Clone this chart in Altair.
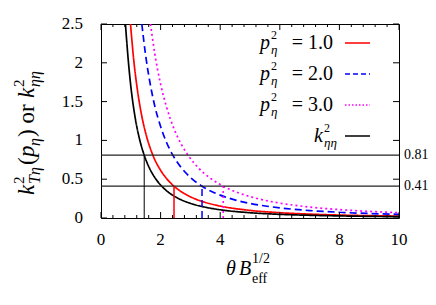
import altair as alt
import pandas as pd

# ---------------- data ----------------
x_black = [0.82, 0.9, 1.0, 1.1, 1.2, 1.3, 1.45, 1.6, 1.8, 2.0, 2.3, 2.6, 3.0, 3.5, 4.0, 5.0, 6.0, 7.0, 8.0, 9.0, 10.0]
y_black = [2.50, 2.10, 1.70, 1.405, 1.18, 1.006, 0.81, 0.664, 0.525, 0.425, 0.321, 0.251, 0.189, 0.139, 0.106, 0.068, 0.047, 0.035, 0.027, 0.021, 0.017]

x_red = [0.99, 1.1, 1.2, 1.35, 1.5, 1.74, 2.0, 2.2, 2.45, 2.8, 3.2, 3.6, 4.0, 5.0, 6.0, 7.0, 8.0, 9.0, 10.0]
y_red = [2.50, 2.03, 1.71, 1.35, 1.093, 0.81, 0.615, 0.508, 0.41, 0.314, 0.240, 0.190, 0.154, 0.098, 0.068, 0.050, 0.038, 0.030, 0.025]

x_blue = [1.37, 1.5, 1.65, 1.8, 2.0, 2.2, 2.41, 2.7, 3.0, 3.39, 3.8, 4.3, 5.0, 6.0, 7.0, 8.0, 9.0, 10.0]
y_blue = [2.50, 2.09, 1.73, 1.45, 1.18, 0.973, 0.81, 0.646, 0.523, 0.41, 0.326, 0.255, 0.188, 0.131, 0.096, 0.074, 0.058, 0.047]

x_mag = [1.66, 1.8, 2.0, 2.2, 2.45, 2.7, 2.92, 3.3, 3.7, 4.1, 4.6, 5.2, 6.0, 7.0, 8.0, 9.0, 10.0]
y_mag = [2.50, 2.13, 1.725, 1.43, 1.15, 0.946, 0.81, 0.634, 0.504, 0.41, 0.326, 0.255, 0.192, 0.141, 0.108, 0.085, 0.069]

series_names = ["p1", "p2", "p3", "kee"]
series_colors = ["#ff0000", "#0000ff", "#ff00ff", "#000000"]
legend_values = ["1.0", "2.0", "3.0"]

h_levels = [0.81, 0.41]
h_labels = ["0.81", "0.41"]

v_x = [1.45, 2.45, 3.39, 4.1]
v_top = [0.81, 0.41, 0.41, 0.41]
v_series = ["kee", "p1", "p2", "p3"]

x_ticks = [0, 2, 4, 6, 8, 10]
x_tick_labels = ["0", "2", "4", "6", "8", "10"]
x_minor = [0.4, 0.8, 1.2, 1.6, 2.4, 2.8, 3.2, 3.6, 4.4, 4.8, 5.2, 5.6, 6.4, 6.8, 7.2, 7.6, 8.4, 8.8, 9.2, 9.6]
y_ticks = [0, 0.5, 1.0, 1.5, 2.0, 2.5]
y_tick_labels = ["0", "0.5", "1", "1.5", "2", "2.5"]

W, H = 298, 194
OX, OY = 101, 24  # page position of plot origin
FONT = "Liberation Serif"

xs = alt.Scale(domain=[0, 10], nice=False, zero=False)
ys = alt.Scale(domain=[0, 2.5], nice=False, zero=False)

rows = []
for name, xv, yv in [("p1", x_red, y_red), ("p2", x_blue, y_blue), ("p3", x_mag, y_mag), ("kee", x_black, y_black)]:
    for a, b in zip(xv, yv):
        rows.append({"s": name, "x": a, "y": b})
curves = pd.DataFrame(rows)

dash_scale = alt.Scale(domain=series_names, range=[[1, 0], [7, 4], [2, 3], [1, 0]])
col_scale = alt.Scale(domain=series_names, range=series_colors)

base_curve = alt.Chart(curves).mark_line(interpolate="monotone", strokeWidth=1.7, clip=True).encode(
    x=alt.X("x:Q", scale=xs, axis=None),
    y=alt.Y("y:Q", scale=ys, axis=None),
    color=alt.Color("s:N", scale=col_scale, legend=None),
    strokeDash=alt.StrokeDash("s:N", scale=dash_scale, legend=None),
    detail="s:N",
)

hdf = pd.DataFrame({"y": h_levels, "t": h_labels})
hrules = alt.Chart(hdf).mark_rule(color="#222222", strokeWidth=1.2).encode(
    y=alt.Y("y:Q", scale=ys, axis=None))
hlabels = alt.Chart(hdf).mark_text(align="left", baseline="middle", font=FONT, fontSize=14, color="black").encode(
    y=alt.Y("y:Q", scale=ys, axis=None), x=alt.value(W + 5), text="t:N")

vdf = pd.DataFrame({"x": v_x, "y0": [0] * 4, "y1": v_top, "s": v_series,
                    "w": [1.0, 1.5, 1.5, 1.5]})
vrules = alt.Chart(vdf).mark_rule().encode(
    x=alt.X("x:Q", scale=xs, axis=None),
    y=alt.Y("y0:Q", scale=ys, axis=None), y2="y1:Q",
    color=alt.Color("s:N", scale=col_scale, legend=None),
    strokeDash=alt.StrokeDash("s:N", scale=dash_scale, legend=None),
    strokeWidth=alt.StrokeWidth("w:Q", scale=None, legend=None),
)

# tick labels
xl = alt.Chart(pd.DataFrame({"x": x_ticks, "t": x_tick_labels})).mark_text(
    align="center", baseline="middle", font=FONT, fontSize=17, color="black").encode(
    x=alt.X("x:Q", scale=xs, axis=None), y=alt.value(H + 22), text="t:N")
yl = alt.Chart(pd.DataFrame({"y": y_ticks, "t": y_tick_labels})).mark_text(
    align="right", baseline="middle", font=FONT, fontSize=17, color="black").encode(
    y=alt.Y("y:Q", scale=ys, axis=None), x=alt.value(-18), text="t:N")

# inward ticks
def xtick_layer(vals, y_a, y_b):
    return alt.Chart(pd.DataFrame({"x": vals})).mark_rule(color="black", strokeWidth=1).encode(
        x=alt.X("x:Q", scale=xs, axis=None), y=alt.value(y_a), y2=alt.value(y_b))

def ytick_layer(vals, x_a, x_b):
    return alt.Chart(pd.DataFrame({"y": vals})).mark_rule(color="black", strokeWidth=1).encode(
        y=alt.Y("y:Q", scale=ys, axis=None), x=alt.value(x_a), x2=alt.value(x_b))

ticks = [
    xtick_layer(x_ticks, H, H - 6), xtick_layer(x_minor, H, H - 3),
    xtick_layer(x_ticks, 0, 6), xtick_layer(x_minor, 0, 3),
    ytick_layer(y_ticks, 0, 6), ytick_layer(y_ticks, W, W - 6),
]

# legend sample lines (page coordinates)
leg_rows_y = [43, 74, 105, 136]
ldf = pd.DataFrame({"s": series_names, "x0": [345 - OX] * 4, "x1": [370 - OX] * 4,
                    "yy": [v - OY for v in leg_rows_y]})
leg_lines = alt.Chart(ldf).mark_rule(strokeWidth=1.7).encode(
    x=alt.X("x0:Q", scale=None, axis=None), x2="x1:Q",
    y=alt.Y("yy:Q", scale=None, axis=None),
    color=alt.Color("s:N", scale=col_scale, legend=None),
    strokeDash=alt.StrokeDash("s:N", scale=alt.Scale(domain=series_names, range=[[1, 0], [5, 3], [1.5, 2], [1, 0]]), legend=None),
)

# text pieces: (text, page x, page y, font size, italic, angle, align)
pieces = []
for c, val in zip(leg_rows_y[:3], legend_values):
    pieces += [("p", 260, c + 6, 20, True, 0, "left"), ("2", 271, c - 4, 12, False, 0, "left"),
               ("η", 271, c + 11, 13, True, 0, "left"), ("= " + val, 333, c + 6, 20, False, 0, "right")]
c = leg_rows_y[3]
pieces += [("k", 314, c + 6, 20, True, 0, "left"), ("2", 324, c - 4, 12, False, 0, "left"),
           ("ηη", 324, c + 11, 13, True, 0, "left")]
# x title
pieces += [("θ", 226, 275, 20, True, 0, "left"), ("B", 239, 275, 20, True, 0, "left"),
           ("1/2", 252, 263, 14, False, 0, "left"), ("eff", 252, 283, 14, False, 0, "left")]
# y title (rotated)
pieces += [("k", 34, 195, 23, True, 270, "left"), ("2", 24, 184, 15, False, 270, "left"),
           ("Tη", 40, 184, 16, True, 270, "left"),
           ("(", 34, 165, 23, False, 270, "left"), ("p", 34, 157, 23, True, 270, "left"),
           ("η", 40, 146, 16, True, 270, "left"),
           (") or ", 34, 137, 23, False, 270, "left"), ("k", 34, 98, 23, True, 270, "left"),
           ("2", 24, 87, 15, False, 270, "left"), ("ηη", 40, 87, 16, True, 270, "left")]

def text_layer(italic, align):
    sel = [p for p in pieces if p[4] == italic and p[6] == align]
    df = pd.DataFrame({"t": [p[0] for p in sel], "px": [p[1] - OX for p in sel], "py": [p[2] - OY for p in sel],
                       "fs": [p[3] for p in sel], "ang": [p[5] for p in sel]})
    return alt.Chart(df).mark_text(align=align, baseline="alphabetic", font=FONT,
                                   fontStyle="italic" if italic else "normal", color="black").encode(
        x=alt.X("px:Q", scale=None, axis=None), y=alt.Y("py:Q", scale=None, axis=None),
        text="t:N", size=alt.Size("fs:Q", scale=None, legend=None),
        angle=alt.Angle("ang:Q", scale=None))

chart = alt.layer(
    base_curve, hrules, hlabels, vrules, xl, yl, *ticks, leg_lines,
    text_layer(True, "left"), text_layer(False, "left"), text_layer(False, "right"),
).resolve_scale(
    color="shared", strokeDash="independent"
).properties(
    width=W, height=H, padding={"left": 93, "top": 16, "right": 29, "bottom": 70},
    autosize=alt.AutoSizeParams(type="none"),
).configure(font=FONT).configure_text(font=FONT).configure_view(stroke="black", strokeWidth=1)

chart.save("out.html", embed_options={"renderer": "svg", "actions": False})
